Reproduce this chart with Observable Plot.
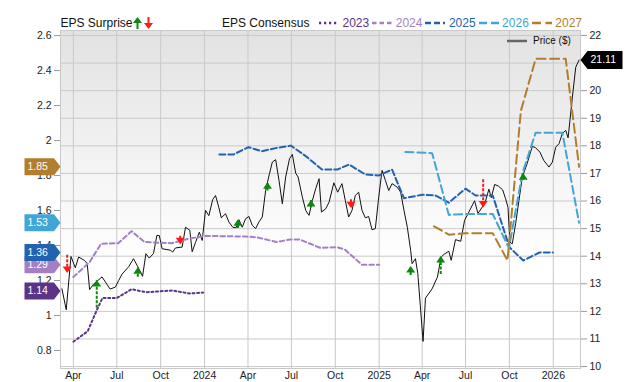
<!DOCTYPE html>
<html><head><meta charset="utf-8">
<script src="https://cdn.jsdelivr.net/npm/d3@7"></script>
<script src="https://cdn.jsdelivr.net/npm/@observablehq/plot@0.6"></script>
<style>
html,body{margin:0;padding:0;background:#fff;font-family:"Liberation Sans",Arial,Helvetica,sans-serif;}
#wrap{position:relative;width:640px;height:382px;overflow:hidden}
#wrap svg{display:block}
.lg{position:absolute;font-size:12px;line-height:14px;white-space:nowrap;color:#111}
.row{position:absolute;display:flex;align-items:center;font-size:12px;line-height:14px;white-space:nowrap}
</style></head><body>
<div id="wrap"></div>
<script>
// ---------- data ----------
const priceData = [
["2023-03-08",12.82],["2023-03-17",12.06],["2023-03-27",13.99],["2023-04-05",13.58],["2023-04-12",13.97],
["2023-04-24",13.85],["2023-04-30",13.73],["2023-05-05",12.79],["2023-05-13",12.98],["2023-05-31",13.25],
["2023-06-17",12.81],["2023-06-28",12.88],["2023-07-05",13.12],["2023-07-12",13.35],["2023-07-26",13.62],
["2023-08-05",13.91],["2023-08-14",13.62],["2023-08-24",13.27],["2023-08-31",14.09],["2023-09-07",13.93],
["2023-09-16",14.10],["2023-09-23",14.75],["2023-09-28",14.75],["2023-10-04",14.27],["2023-10-21",14.22],
["2023-10-26",14.15],["2023-11-01",14.30],["2023-11-15",14.33],["2023-11-22",15.05],["2023-12-01",14.94],
["2023-12-06",14.16],["2023-12-13",14.50],["2023-12-21",14.87],["2023-12-27",14.57],["2024-01-03",15.66],
["2024-01-10",15.47],["2024-01-18",16.05],["2024-01-24",16.20],["2024-01-31",15.76],["2024-02-05",15.39],
["2024-02-14",15.54],["2024-02-21",15.24],["2024-02-29",15.05],["2024-03-07",15.03],["2024-03-13",15.32],
["2024-03-20",15.05],["2024-03-27",15.36],["2024-04-03",15.44],["2024-04-10",15.12],["2024-04-17",15.00],
["2024-04-24",15.24],["2024-05-01",15.42],["2024-05-08",16.38],["2024-05-16",16.99],["2024-05-22",17.41],
["2024-05-29",17.50],["2024-06-05",16.75],["2024-06-12",15.90],["2024-06-19",16.87],["2024-06-27",17.53],
["2024-07-03",17.69],["2024-07-10",17.01],["2024-07-15",16.87],["2024-07-24",16.14],["2024-07-31",15.66],
["2024-08-07",15.48],["2024-08-14",16.02],["2024-08-21",16.45],["2024-08-28",16.81],["2024-09-02",15.60],
["2024-09-11",15.72],["2024-09-18",15.96],["2024-09-28",16.66],["2024-10-06",16.32],["2024-10-15",16.63],
["2024-10-22",16.02],["2024-10-29",15.42],["2024-11-05",15.66],["2024-11-12",16.20],["2024-11-19",16.32],
["2024-11-26",15.66],["2024-12-03",15.39],["2024-12-10",15.44],["2024-12-17",14.96],["2024-12-24",15.00],
["2024-12-31",16.14],["2025-01-07",17.11],["2025-01-14",16.75],["2025-01-21",16.38],["2025-01-28",16.63],
["2025-02-08",16.50],["2025-02-15",16.32],["2025-02-22",15.66],["2025-03-01",15.05],["2025-03-08",14.21],
["2025-03-11",13.73],["2025-03-18",13.91],["2025-03-23",13.37],["2025-04-03",10.91],["2025-04-08",12.48],
["2025-04-22",12.82],["2025-05-03",13.24],["2025-05-11",13.97],["2025-05-17",14.07],["2025-05-27",14.18],
["2025-06-01",13.85],["2025-06-10",14.60],["2025-06-21",14.54],["2025-06-29",15.30],["2025-07-08",15.60],
["2025-07-20",16.01],["2025-07-27",15.55],["2025-08-05",15.78],["2025-08-12",16.00],["2025-08-19",16.43],
["2025-08-24",16.12],["2025-08-31",16.60],["2025-09-08",16.54],["2025-09-17",16.40],["2025-09-23",16.08],
["2025-09-28",15.77],["2025-10-02",14.51],["2025-10-07",14.45],["2025-10-14",15.18],["2025-10-21",16.02],
["2025-10-28",16.87],["2025-11-07",17.35],["2025-11-18",17.98],["2025-11-25",17.93],["2025-12-04",17.77],
["2025-12-12",17.47],["2025-12-23",17.23],["2025-12-30",17.41],["2026-01-06",17.95],["2026-01-13",18.08],
["2026-01-20",18.45],["2026-01-27",18.56],["2026-02-01",18.29],["2026-02-10",19.76],["2026-02-17",20.85],
["2026-02-24",21.11]
];
const eps2023 = [["2023-04-01",0.85],["2023-05-01",0.91],["2023-05-20",1.03],["2023-06-01",1.10],["2023-07-01",1.10],
["2023-08-01",1.15],["2023-09-01",1.133],["2023-10-25",1.143],["2023-12-01",1.126],["2023-12-29",1.131]];
const eps2024 = [["2023-04-01",1.22],["2023-05-05",1.305],["2023-05-29",1.41],["2023-07-04",1.413],["2023-08-01",1.482],
["2023-08-28",1.42],["2023-10-24",1.413],["2023-11-30",1.44],["2024-01-05",1.455],["2024-03-29",1.451],
["2024-04-19",1.447],["2024-05-31",1.42],["2024-06-28",1.434],["2024-07-19",1.434],["2024-08-30",1.387],
["2024-10-05",1.39],["2024-10-21",1.377],["2024-11-26",1.29],["2025-01-01",1.29]];
const eps2025 = [["2024-02-01",1.92],["2024-03-01",1.92],["2024-04-02",1.962],["2024-04-30",1.939],["2024-05-31",1.958],
["2024-06-30",1.971],["2024-08-03",1.905],["2024-09-03",1.834],["2024-10-05",1.834],["2024-10-30",1.863],
["2024-12-03",1.806],["2024-12-31",1.80],["2025-01-28",1.834],["2025-02-22",1.67],["2025-04-01",1.69],
["2025-04-29",1.686],["2025-05-27",1.645],["2025-07-01",1.725],["2025-07-22",1.686],["2025-08-27",1.686],
["2025-10-01",1.39],["2025-10-30",1.314],["2025-12-03",1.36],["2025-12-31",1.36]];
const eps2026 = [["2025-02-25",1.935],["2025-04-22",1.928],["2025-05-27",1.575],["2025-07-01",1.58],["2025-08-27",1.58],
["2025-09-30",1.385],["2025-10-28",1.81],["2025-11-25",2.045],["2026-01-20",2.045],["2026-02-24",1.53]];
const eps2027 = [["2025-04-26",1.51],["2025-05-27",1.462],["2025-07-01",1.47],["2025-08-27",1.47],["2025-09-27",1.315],
["2025-10-25",2.17],["2025-11-25",2.467],["2026-01-27",2.467],["2026-02-24",1.85]];
// EPS surprise arrows: [date, price at arrow tail, price at arrow head]
const surprises = [
["2023-03-19",14.03,13.41],["2023-05-20",12.11,13.12],["2023-08-14",13.24,13.58],["2023-11-11",14.72,14.45],
["2024-03-11",15.00,15.32],["2024-05-12",16.36,16.66],["2024-08-11",15.76,16.02],["2024-11-03",16.05,15.76],
["2025-03-08",13.30,13.63],["2025-05-10",13.34,13.99],["2025-08-07",16.77,15.78],["2025-10-30",16.77,16.99]
];
const seriesNames = ["2023","2024","2025","2026","2027"];
const consensusLatest = [1.14,1.29,1.36,1.53,1.85];
const lastPrice = 21.11;
const epsTicks = [0.8,1,1.2,1.4,1.6,1.8,2,2.2,2.4,2.6];
const priceTicks = [10,11,12,13,14,15,16,17,18,19,20,21,22];
const priceLabelTicks = [10,11,12,13,14,15,16,17,18,19,20,22]; // "21" is hidden under the price tag
const quarterTicks = ["2023-04-01","2023-07-01","2023-10-01","2024-01-01","2024-04-01","2024-07-01","2024-10-01",
"2025-01-01","2025-04-01","2025-07-01","2025-10-01","2026-01-01"];
const monthNames = ["Jan","Feb","Mar","Apr","May","Jun","Jul","Aug","Sep","Oct","Nov","Dec"];

// ---------- styles / scales ----------
const colors = ["#5c3487","#a57fc3","#2163b0","#41a5d6","#b27d2c"];
const dashes = ["2,2.6","4.5,3","6,3","8,4","9,4.5"];
const xDomain = [new Date("2023-03-05"), new Date("2026-02-27")];
const epsDomain = [0.697, 2.629];
const priceDomain = [9.93, 22.18];
const p2e = d3.scaleLinear().domain(priceDomain).range(epsDomain);
const parse = ([d, v]) => ({date: new Date(d), v});
const GREEN = "#0a8a0a", RED = "#ff1a1a";

const headUp = {draw(c){c.moveTo(0,-0.5);c.lineTo(4.5,6);c.lineTo(-4.5,6);c.closePath();}};
const headDown = {draw(c){c.moveTo(0,0.5);c.lineTo(4.5,-6);c.lineTo(-4.5,-6);c.closePath();}};
const tagLeft = {draw(c){c.moveTo(0,0);c.lineTo(-6.5,-8.5);c.lineTo(-36,-8.5);c.lineTo(-36,8.5);c.lineTo(-6.5,8.5);c.closePath();}};
const tagRight = {draw(c){c.moveTo(0,0);c.lineTo(7,-9);c.lineTo(42,-9);c.lineTo(42,9);c.lineTo(7,9);c.closePath();}};

const surp = surprises.map(([d,a,b]) => ({date: new Date(d), from: a, to: b}));
const ups = surp.filter(d => d.to > d.from), downs = surp.filter(d => d.to < d.from);
const epsSeries = [eps2023, eps2024, eps2025, eps2026, eps2027];
const qDates = quarterTicks.map(d => new Date(d));

const marks = [
  Plot.frame({fill: "url(#bgGrad)", stroke: "none"}),
  Plot.gridY(priceTicks.map(p2e), {stroke: "#c9c9c9", strokeOpacity: 1}),
  Plot.gridX(qDates, {stroke: "#c9c9c9", strokeOpacity: 1}),
  Plot.frame({stroke: "#c9c9c9"}),
  Plot.axisY(epsTicks, {anchor: "left", tickSize: 6, tickPadding: 3, stroke: "#999", fill: "#222",
    tickFormat: d => String(+d.toFixed(1)), label: null}),
  Plot.axisY(priceLabelTicks.map(p2e), {anchor: "right", tickSize: 6, tickPadding: 3, stroke: "#999", fill: "#222",
    tickFormat: d => String(Math.round(p2e.invert(d))), label: null}),
  Plot.axisX(qDates, {anchor: "bottom", tickSize: 0, tickPadding: 3, fill: "#222",
    tickFormat: d => d.getUTCMonth() === 0 ? String(d.getUTCFullYear()) : monthNames[d.getUTCMonth()], label: null}),
  Plot.line(priceData.map(parse), {x: "date", y: d => p2e(d.v), stroke: "#111", strokeWidth: 1}),
  ...epsSeries.map((s, i) => Plot.line(s.map(parse), {x: "date", y: "v", stroke: colors[i], strokeWidth: 2,
    strokeDasharray: dashes[i]})),
  Plot.ruleX(ups, {x: "date", y1: d => p2e(d.from), y2: d => p2e(d.to), stroke: GREEN, strokeWidth: 2, strokeDasharray: "3,1.5"}),
  Plot.ruleX(downs, {x: "date", y1: d => p2e(d.from), y2: d => p2e(d.to), stroke: RED, strokeWidth: 2, strokeDasharray: "3,1.5"}),
  Plot.dot(ups, {x: "date", y: d => p2e(d.to), symbol: headUp, fill: GREEN, stroke: "none", r: 4}),
  Plot.dot(downs, {x: "date", y: d => p2e(d.to), symbol: headDown, fill: RED, stroke: "none", r: 4}),
  ...consensusLatest.flatMap((v, i) => [
    Plot.dot([v], {y: d => d, frameAnchor: "left", symbol: tagLeft, fill: colors[i], stroke: "none", r: 5}),
    Plot.text([v], {y: d => d, frameAnchor: "left", text: d => d.toFixed(2), dx: -33, textAnchor: "start",
      fill: "white", fontSize: 10.5})
  ]),
  Plot.dot([lastPrice], {y: d => p2e(d), frameAnchor: "right", symbol: tagRight, fill: "#000", stroke: "none", r: 5}),
  Plot.text([lastPrice], {y: d => p2e(d), frameAnchor: "right", text: d => d.toFixed(2), dx: 10, textAnchor: "start",
    fill: "white", fontSize: 10.5})
];

const chart = Plot.plot({
  width: 640, height: 382,
  marginLeft: 60, marginRight: 60, marginTop: 30, marginBottom: 14,
  x: {type: "utc", domain: xDomain},
  y: {domain: epsDomain},
  style: {fontFamily: '"Liberation Sans", Arial, sans-serif', fontSize: "10.5px", color: "#222", background: "transparent", overflow: "visible"},
  marks
});

const svgSel = d3.select(chart);
const grad = svgSel.insert("defs", ":first-child").append("linearGradient")
  .attr("id", "bgGrad").attr("x1", 0).attr("y1", 0).attr("x2", 0).attr("y2", 1);
grad.append("stop").attr("offset", "0%").attr("stop-color", "#e2e2e2");
grad.append("stop").attr("offset", "45%").attr("stop-color", "#f6f6f6");
grad.append("stop").attr("offset", "70%").attr("stop-color", "#ffffff");
grad.append("stop").attr("offset", "100%").attr("stop-color", "#ffffff");

const wrap = document.getElementById("wrap");
wrap.appendChild(chart);

// ---------- legend (HTML overlay) ----------
function el(html, css, cls = "lg") {
  const d = document.createElement("div");
  d.className = cls; d.innerHTML = html; d.style.cssText = css; wrap.appendChild(d); return d;
}
const arrowSvg = (col, up) => `<svg width="9" height="12" viewBox="0 0 9 12">` +
  (up ? `<rect x="3.5" y="5" width="2" height="7" fill="${col}"/><polygon points="4.5,0 9,6 0,6" fill="${col}"/>`
      : `<rect x="3.5" y="0" width="2" height="7" fill="${col}"/><polygon points="4.5,12 9,6 0,6" fill="${col}"/>`) + `</svg>`;
el("EPS Surprise", "left:60.5px;top:15.5px;");
el(arrowSvg(GREEN, true), "left:133px;top:17px;line-height:0;");
el(arrowSvg(RED, false), "left:143.5px;top:17px;line-height:0;");
el("EPS Consensus", "left:222px;top:15.5px;");
let items = "";
seriesNames.forEach((n, i) => {
  items += `<svg width="20" height="6" style="margin-right:3.5px"><line x1="0" y1="3" x2="20" y2="3" stroke="${colors[i]}" stroke-width="2.5" stroke-dasharray="${i === 0 ? '2.2,2.8' : dashes[i]}"/></svg>` +
    `<span style="color:${colors[i]};margin-right:3px">${n}</span>`;
});
el(items, "left:319px;top:15.5px;", "row");
el(`<svg width="20" height="6" style="margin-right:6px"><line x1="0" y1="3" x2="20" y2="3" stroke="#666" stroke-width="2.5"/></svg><span style="font-size:10px;color:#111">Price ($)</span>`,
   "left:507px;top:34px;", "row");
</script></body></html>
